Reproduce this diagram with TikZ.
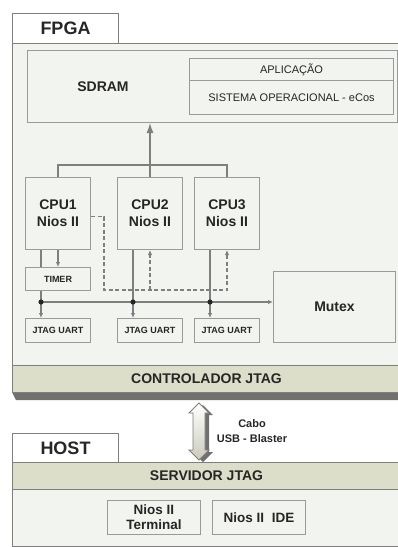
\documentclass[tikz,border=0pt]{standalone}
\usepackage{fontspec}
\setmainfont{Liberation Sans}
\usetikzlibrary{arrows.meta,calc}
\definecolor{panelc}{HTML}{F2F4EF}
\definecolor{bandc}{HTML}{DCDEC9}
\definecolor{bordc}{HTML}{9A9A9A}
\definecolor{linec}{HTML}{7F7F7F}
\definecolor{txtc}{HTML}{262626}
\definecolor{shadc}{HTML}{707070}
\begin{document}
\begin{tikzpicture}[x=1pt,y=-1pt,
  box/.style={draw=bordc, fill=panelc, line width=1pt, inner sep=0pt, anchor=north west, align=center, text=txtc},
  panel/.style={box, draw=linec},
  tabbox/.style={box, draw=linec, fill=white, font=\bfseries\fontsize{18}{20}\selectfont},
  band/.style={box, draw=linec, fill=bandc, font=\bfseries\fontsize{14}{16}\selectfont},
  cpubox/.style={box, minimum width=65pt, minimum height=72pt, font=\bfseries\fontsize{14}{17}\selectfont},
  smallbox/.style={box, minimum width=65pt, minimum height=24pt, font=\bfseries\fontsize{9}{10}\selectfont},
  conn/.style={draw=linec, line width=1.2pt},
  arr/.style={-{Latex[length=5pt,width=4.5pt]}},
  dashconn/.style={conn, dash pattern=on 4pt off 2.5pt},
  dotc/.style={fill=txtc}
]
\useasboundingbox (0,0) rectangle (398,547);
\clip (0,0) rectangle (398,547);
\fill[white] (0,0) rectangle (398,547);

% FPGA panel
\node[panel, minimum width=388pt, minimum height=349pt] (fpga) at (12,43) {};
\node[tabbox, minimum width=106pt, minimum height=30pt] (fpgatab) at (12,13) {FPGA};
\fill[shadc] (12,392) -- (16,400) -- (400,400) -- (400,392) -- cycle;
\node[band, minimum width=388pt, minimum height=27pt] (ctrl) at (12,365) {CONTROLADOR JTAG};

% SDRAM
\node[box, minimum width=370pt, minimum height=72pt] (sdram) at (27,50) {};
\node[text=txtc, font=\bfseries\fontsize{14}{16}\selectfont] (sdramlbl) at (103,87) {SDRAM};
\node[box, minimum width=204pt, minimum height=22pt, font=\fontsize{11}{13}\selectfont] (app) at (189,58) {APLICAÇÃO};
\node[box, minimum width=204pt, minimum height=34pt, font=\fontsize{11}{13}\selectfont] (so) at (189,80) {SISTEMA OPERACIONAL - eCos};

% CPUs
\node[cpubox] (cpu1) at (25,177) {CPU1\\Nios II};
\node[cpubox] (cpu2) at (117,177) {CPU2\\Nios II};
\node[cpubox] (cpu3) at (194,177) {CPU3\\Nios II};

\node[smallbox, minimum height=23pt] (timer) at (25,267) {TIMER};
\node[smallbox] (jt1) at (25,318) {JTAG UART};
\node[smallbox] (jt2) at (117,318) {JTAG UART};
\node[smallbox] (jt3) at (194,318) {JTAG UART};
\node[box, minimum width=122pt, minimum height=71pt, font=\bfseries\fontsize{14}{16}\selectfont] (mutex) at (273,271) {Mutex};

% bus to SDRAM
\coordinate (bus) at (150,165);
\draw[conn] (cpu1.north) |- (bus) -| (cpu3.north);
\draw[conn] (cpu2.north) -- (bus);
\draw[conn, -{Latex[length=10pt,width=7pt]}] (bus) -- (sdram.south -| bus);

% lower connections
\coordinate (j1) at (41,302);
\coordinate (j2) at (133,302);
\coordinate (j3) at (210,302);
\draw[conn] (cpu1.south -| j1) -- (timer.north -| j1);
\draw[conn, arr] (cpu1.south) -- (timer.north);
\draw[conn] (timer.south -| j1) -- (j1);
\draw[conn, arr] (j1) -- (jt1.north -| j1);
\draw[conn, arr] (j1) -- (j1 -| mutex.west);
\draw[conn, arr] (cpu2.south -| j2) -- (jt2.north -| j2);
\draw[conn, arr] (cpu3.south -| j3) -- (jt3.north -| j3);
\fill[dotc] (j1) circle (2.6);
\fill[dotc] (j2) circle (2.6);
\fill[dotc] (j3) circle (2.6);

% dashed
\coordinate (d1) at (104,290);
\coordinate (d2) at (227,290);
\draw[dashconn, arr] ([yshift=-3pt]cpu1.east) -| (d1) -- (d2) -- (cpu3.south -| d2);
\draw[dashconn, arr] (d1 -| cpu2) -- (cpu2.south);

% HOST
\node[panel, minimum width=388pt, minimum height=57pt] (hostp) at (12,489) {};
\node[tabbox, minimum width=106pt, minimum height=29pt] (hosttab) at (12,433) {HOST};
\node[band, minimum width=388pt, minimum height=27pt] (serv) at (12,462) {SERVIDOR JTAG};
\node[box, minimum width=93pt, minimum height=34pt, font=\bfseries\fontsize{13.5}{15}\selectfont] (term) at (107,500) {Nios II\\Terminal};
\node[box, minimum width=93pt, minimum height=34pt, font=\bfseries\fontsize{13.5}{15}\selectfont] (ide) at (212,500) {Nios II\ \ IDE};

% 3D double arrow (cable)
\fill[shadc] (203,405) -- (213,415) -- (209,415) -- (209,452) -- (213,452) -- (203,462) -- (193,452) -- (197,452) -- (197,415) -- (193,415) -- cycle;
\shade[top color=white, bottom color=bandc!80!gray]
  (199,403) -- (209,413) -- (205,413) -- (205,450) -- (209,450) -- (199,460) -- (189,450) -- (193,450) -- (193,413) -- (189,413) -- cycle;
\draw[linec, line width=0.8pt] (199,403) -- (209,413) -- (205,413) -- (205,450) -- (209,450) -- (199,460) -- (189,450) -- (193,450) -- (193,413) -- (189,413) -- cycle;
\node[text=txtc, font=\bfseries\fontsize{11}{15}\selectfont, align=center] (cabo) at (252,431) {Cabo\\USB - Blaster};
\end{tikzpicture}
\end{document}
